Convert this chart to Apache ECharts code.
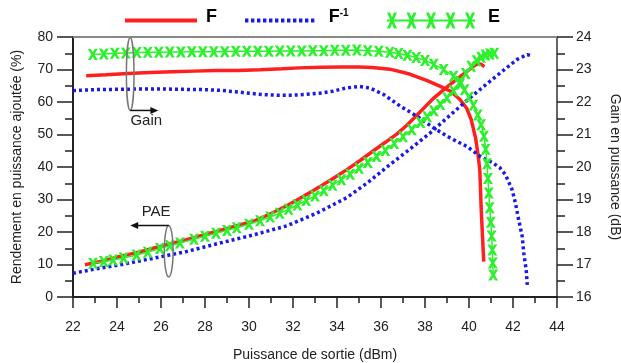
<!DOCTYPE html>
<html><head><meta charset="utf-8">
<script src="https://cdn.jsdelivr.net/npm/echarts@6/dist/echarts.min.js"></script>
<style>html,body{margin:0;padding:0;background:#fff}#c{width:621px;height:363px}</style>
</head><body><div id="c"></div>
<script>
// ---- axis ranges ----
const xMin = 22, xMax = 44, xStep = 2;
const paeMin = 0, paeMax = 80, paeStep = 10;
const gainMin = 16, gainMax = 24, gainStep = 1;

// ---- series names ----
const seriesNames = ['F', 'F-1', 'E'];

// ---- PAE (%) vs output power (dBm) ----
const F_pae = [[22.54,9.9],[23.3,11.0],[24.13,12.5],[25.0,13.8],[25.64,15.0],[26.4,16.3],[27.16,17.6],[27.9,19.0],[28.68,20.5],[29.4,21.9],[30.2,23.3],[31.0,25.7],[31.7,28.0],[32.3,30.3],[32.93,32.8],[33.7,35.9],[34.45,39.2],[35.05,42.0],[35.66,45.0],[36.2,47.6],[36.73,50.2],[37.2,53.0],[37.64,56.0],[38.0,58.5],[38.4,61.2],[38.8,63.5],[39.15,65.4],[39.55,67.6],[39.91,69.4],[40.2,71.0],[40.4,71.8],[40.55,71.6],[40.7,70.9]];
const Finv_pae = [[22.0,7.3],[22.76,8.3],[24.13,9.9],[25.64,11.9],[27.16,14.0],[28.68,16.6],[30.2,19.1],[31.72,21.9],[33.08,25.8],[34.45,30.6],[35.36,35.0],[36.27,40.0],[37.18,44.8],[38.24,50.5],[39.15,56.0],[39.91,60.5],[40.67,64.8],[41.43,69.0],[42.19,73.1],[42.65,74.6],[42.87,74.1]];
const E_pae = [[22.91,10.4],[23.4,10.9],[23.82,11.4],[24.3,12.0],[24.89,12.9],[25.4,13.8],[25.95,14.9],[26.4,15.8],[26.86,16.6],[27.5,17.8],[28.0,18.7],[28.5,19.6],[29.0,20.5],[29.44,21.3],[30.0,22.4],[30.5,23.5],[30.96,24.6],[31.4,25.8],[31.8,27.0],[32.2,28.3],[32.6,29.7],[33.0,31.1],[33.4,32.7],[33.8,34.4],[34.2,36.1],[34.6,37.8],[35.0,39.6],[35.4,41.4],[35.8,43.2],[36.2,45.1],[36.6,47.2],[37.0,49.3],[37.4,51.5],[37.8,53.7],[38.1,55.5],[38.4,57.3],[38.7,59.2],[39.0,61.2],[39.3,63.5],[39.6,66.3],[39.85,68.8],[40.1,71.0],[40.35,72.7],[40.55,73.8],[40.75,74.5],[40.95,74.8],[41.15,75.0]];

// ---- Gain (dB) vs output power (dBm) ----
const F_gain = [[22.6,22.81],[23.5,22.84],[24.5,22.88],[25.5,22.91],[26.5,22.93],[27.5,22.95],[28.5,22.97],[29.5,22.97],[30.5,22.99],[31.5,23.02],[32.3,23.05],[33.3,23.07],[34.2,23.08],[35.0,23.08],[35.6,23.06],[36.4,23.01],[37.3,22.86],[38.1,22.66],[38.7,22.48],[39.16,22.33],[39.6,22.07],[39.9,21.8],[40.1,21.46],[40.3,20.89],[40.42,20.33],[40.49,19.91],[40.52,19.4],[40.55,18.78],[40.6,18.06],[40.67,17.09]];
const Finv_gain = [[22.0,22.35],[23.0,22.38],[24.0,22.39],[25.0,22.40],[26.0,22.40],[27.0,22.39],[28.0,22.38],[28.7,22.36],[29.3,22.32],[30.0,22.27],[30.6,22.23],[31.3,22.21],[32.0,22.21],[32.5,22.23],[33.2,22.27],[33.8,22.33],[34.4,22.43],[35.0,22.48],[35.5,22.43],[36.12,22.23],[36.88,21.87],[37.64,21.56],[38.4,21.2],[39.15,20.89],[39.91,20.63],[40.52,20.32],[41.05,20.14],[41.4,19.98],[41.66,19.76],[41.96,19.30],[42.11,18.89],[42.26,18.37],[42.42,17.86],[42.49,17.35],[42.60,16.83],[42.65,16.37]];
const E_gain = [[22.9,23.46],[23.4,23.48],[23.9,23.5],[24.4,23.51],[24.9,23.52],[25.4,23.53],[25.9,23.53],[26.4,23.54],[26.9,23.54],[27.4,23.55],[27.9,23.55],[28.4,23.55],[28.9,23.55],[29.4,23.56],[29.9,23.56],[30.4,23.56],[30.9,23.56],[31.4,23.57],[31.9,23.57],[32.4,23.57],[32.9,23.58],[33.4,23.58],[33.9,23.59],[34.4,23.59],[34.9,23.6],[35.4,23.58],[35.9,23.56],[36.4,23.53],[36.8,23.49],[37.2,23.44],[37.6,23.37],[38.0,23.28],[38.4,23.16],[38.85,23.0],[39.3,22.79],[39.6,22.55],[39.8,22.38],[40.0,22.15],[40.2,21.9],[40.4,21.6],[40.55,21.3],[40.68,20.95],[40.76,20.55],[40.82,20.1],[40.86,19.65],[40.9,19.2],[40.94,18.75],[40.99,18.3],[41.03,17.88],[41.06,17.45],[41.08,17.05],[41.1,16.68]];

// ---- text ----
const xName = 'Puissance de sortie (dBm)';
const yLeftName = 'Rendement en puissance ajoutée (%)';
const yRightName = 'Gain en puissance (dB)';

const RED = '#ff1f1f', BLUE = '#1a1ae8', GREEN = '#2cf02c';
const FONT = 'Liberation Sans';

// icons
const xMark = 'path://M0,0 L3,0 L10,10 L7,10 Z M7,0 L10,0 L3,10 L0,10 Z';
let bluePath = 'path://';
for (let i = 0; i < 12; i++) { const x0 = i * 6; bluePath += `M${x0},0 L${x0+3.4},0 L${x0+3.4},4 L${x0},4 Z `; }
let greenPath = 'path://M0,7 L88,7 L88,9 L0,9 Z ';
[5, 24.5, 44, 63.5, 83].forEach(c => {
  greenPath += `M${c-5},0 L${c-2},0 L${c+5},16 L${c+2},16 Z M${c+2},0 L${c+5},0 L${c-2},16 L${c-5},16 Z `;
});

const legendText = (padLeft) => ({
  fontFamily: FONT, fontSize: 18, fontWeight: 'bold', color: '#000',
  padding: [0, 0, 7, padLeft],
  rich: { sup: { fontFamily: FONT, fontSize: 10, fontWeight: 'bold', color: '#000', verticalAlign: 'top', padding: [0,0,8,0] } }
});
const fmt = n => n === 'F-1' ? 'F{sup|-1}' : n;

const chart = echarts.init(document.getElementById('c'), null, { renderer: 'canvas' });
const axisTxt = { fontFamily: FONT, fontSize: 14, color: '#222' };

chart.setOption({
  animation: false,
  backgroundColor: '#fff',
  textStyle: { fontFamily: FONT },
  grid: { left: 73, right: 64, top: 37, bottom: 66, containLabel: false, outerBoundsMode: 'none' },
  legend: [
    { data: [{ name: 'F', icon: 'rect' }], left: 120, top: 3, itemWidth: 72, itemHeight: 4, itemGap: 0, selectedMode: false, textStyle: legendText(4), formatter: fmt },
    { data: [{ name: 'F-1', icon: bluePath }], left: 240, top: 3, itemWidth: 72, itemHeight: 4, itemGap: 0, selectedMode: false, textStyle: legendText(8), formatter: fmt },
    { data: [{ name: 'E', icon: greenPath }], left: 382, top: 3, itemWidth: 88, itemHeight: 16, itemGap: 0, selectedMode: false, textStyle: legendText(8), formatter: fmt }
  ],
  xAxis: [{
    type: 'value', min: xMin, max: xMax, interval: xStep, position: 'bottom',
    name: xName, nameLocation: 'middle', nameGap: 51,
    nameTextStyle: { fontFamily: FONT, fontSize: 14, color: '#222' },
    axisLine: { show: true, onZero: false, lineStyle: { color: '#222', width: 2 } },
    axisTick: { show: true, length: 11, lineStyle: { color: '#222', width: 1.5 } },
    minorTick: { show: true, splitNumber: 2, length: 6, lineStyle: { color: '#222', width: 1.5 } },
    axisLabel: Object.assign({ margin: 23 }, axisTxt),
    splitLine: { show: false }
  }, {
    type: 'value', min: xMin, max: xMax, position: 'top',
    axisLine: { show: true, onZero: false, lineStyle: { color: '#888', width: 2 } },
    axisTick: { show: false }, axisLabel: { show: false }, splitLine: { show: false }
  }],
  yAxis: [{
    type: 'value', min: paeMin, max: paeMax, interval: paeStep, position: 'left',
    name: yLeftName, nameLocation: 'middle', nameGap: 49, nameRotate: 90,
    nameTextStyle: { fontFamily: FONT, fontSize: 14, color: '#222' },
    axisLine: { show: true, onZero: false, lineStyle: { color: '#222', width: 2 } },
    axisTick: { show: true, length: 16, lineStyle: { color: '#222', width: 1.5 } },
    minorTick: { show: true, splitNumber: 2, length: 8, lineStyle: { color: '#222', width: 1.5 } },
    axisLabel: Object.assign({ margin: 20 }, axisTxt),
    splitLine: { show: false }
  }, {
    type: 'value', min: gainMin, max: gainMax, interval: gainStep, position: 'right',
    name: yRightName, nameLocation: 'middle', nameGap: 51, nameRotate: -90,
    nameTextStyle: { fontFamily: FONT, fontSize: 14, color: '#222' },
    axisLine: { show: true, onZero: false, lineStyle: { color: '#666', width: 2 } },
    axisTick: { show: true, length: 16, lineStyle: { color: '#222', width: 1.5 } },
    minorTick: { show: true, splitNumber: 2, length: 8, lineStyle: { color: '#222', width: 1.5 } },
    axisLabel: Object.assign({ margin: 19 }, axisTxt),
    splitLine: { show: false }
  }],
  series: [
    { name: 'F', type: 'line', yAxisIndex: 0, data: F_pae, symbol: 'none', lineStyle: { color: RED, width: 3.5 }, itemStyle: { color: RED }, z: 2 },
    { name: 'F', type: 'line', yAxisIndex: 1, data: F_gain, symbol: 'none', lineStyle: { color: RED, width: 3.5 }, itemStyle: { color: RED }, z: 2 },
    { name: 'F-1', type: 'line', yAxisIndex: 0, data: Finv_pae, symbol: 'none', lineStyle: { color: BLUE, width: 3.5, type: [3, 3], cap: 'butt' }, itemStyle: { color: BLUE }, z: 3 },
    { name: 'F-1', type: 'line', yAxisIndex: 1, data: Finv_gain, symbol: 'none', lineStyle: { color: BLUE, width: 3.5, type: [3, 3], cap: 'butt' }, itemStyle: { color: BLUE }, z: 3 },
    { name: 'E', type: 'line', yAxisIndex: 0, data: E_pae, symbol: xMark, symbolSize: [10, 11], showAllSymbol: true, lineStyle: { color: GREEN, width: 1.5 }, itemStyle: { color: GREEN }, z: 4 },
    { name: 'E', type: 'line', yAxisIndex: 1, data: E_gain, symbol: xMark, symbolSize: [10, 11], showAllSymbol: true, lineStyle: { color: GREEN, width: 1.5 }, itemStyle: { color: GREEN }, z: 4 }
  ]
});

// ---- annotations (positioned through the axes) ----
const P = (x, y) => chart.convertToPixel({ xAxisIndex: 0, yAxisIndex: 0 }, [x, y]);
function arrow(x1, y1, x2, y2) {
  const a = P(x1, y1), b = P(x2, y2);
  const dir = Math.sign(b[0] - a[0]);
  return [
    { type: 'line', shape: { x1: a[0], y1: a[1], x2: b[0] - dir * 6, y2: b[1] }, style: { stroke: '#111', lineWidth: 1.5 }, z: 10 },
    { type: 'polygon', shape: { points: [[b[0], b[1]], [b[0] - dir * 8, b[1] - 3.5], [b[0] - dir * 8, b[1] + 3.5]] }, style: { fill: '#111' }, z: 10 }
  ];
}
function ellipse(xc, yTop, yBot, rx) {
  const t = P(xc, yTop), bt = P(xc, yBot);
  return { type: 'ellipse', shape: { cx: t[0], cy: (t[1] + bt[1]) / 2, rx: rx, ry: (bt[1] - t[1]) / 2 }, style: { fill: 'none', stroke: '#777', lineWidth: 1.5 }, z: 10 };
}
function label(txt, x, y) {
  const p = P(x, y);
  return { type: 'text', x: p[0], y: p[1], style: { text: txt, fontFamily: FONT, fontSize: 15, fill: '#222', align: 'center', verticalAlign: 'middle' }, z: 10 };
}
chart.setOption({
  graphic: [
    ellipse(24.6, 79.8, 57.4, 3.8),
    ...arrow(24.6, 57.4, 25.88, 57.4),
    label('Gain', 25.33, 54.1),
    ellipse(26.35, 22.0, 6.2, 4.4),
    ...arrow(26.35, 22.0, 24.6, 22.0),
    label('PAE', 25.78, 26.2)
  ]
});
</script>
</body></html>
